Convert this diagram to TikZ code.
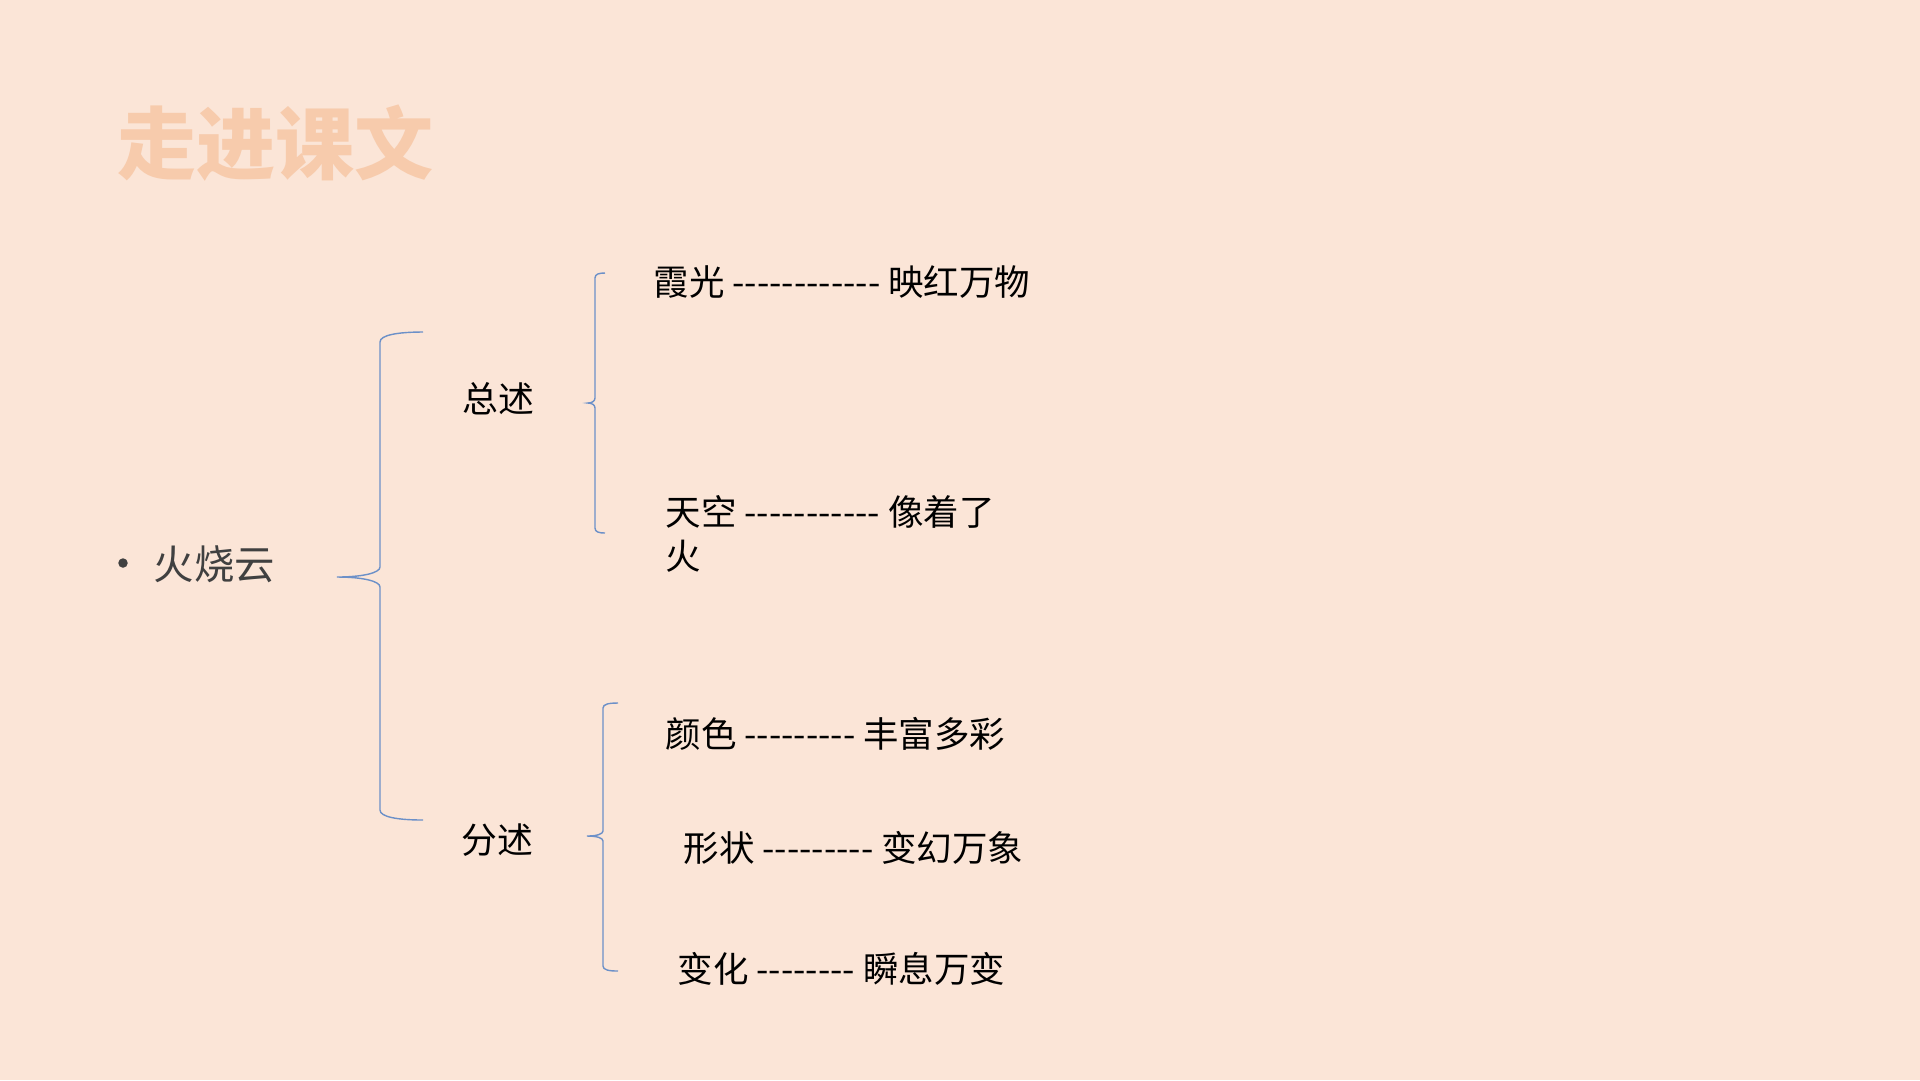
\documentclass[tikz,border=0pt]{standalone}
\usepackage{fontspec}
\newfontfamily\cjk{Noto Sans CJK SC}
\usetikzlibrary{positioning}
\definecolor{bgpeach}{HTML}{FBE5D7}
\definecolor{titlepeach}{HTML}{F7CBAC}
\definecolor{bracebl}{HTML}{6C90C8}
\definecolor{itemgray}{HTML}{404040}

\begin{document}
\begin{tikzpicture}[x=0.1mm, y=-0.1mm,
  title/.style={anchor=west, inner sep=0, text=titlepeach, font=\cjk\bfseries\fontsize{22.5}{27}\selectfont},
  item/.style={anchor=west, inner sep=0, text=itemgray, font=\cjk\fontsize{11.5}{14}\selectfont},
  part/.style={inner sep=0, font=\cjk\fontsize{10.2}{12}\selectfont},
  pair/.style={anchor=west, inner sep=0, align=left, font=\cjk\fontsize{10.1}{12.5}\selectfont},
  curly/.style={draw=bracebl, line width=0.4pt}]
  \fill[bgpeach] (0,0) rectangle (1920,1080);
  \node[title] (head) at (117,143) {走进课文};
  \node[circle, fill=itemgray, inner sep=0, minimum size=0.95mm] (dot) at (123,563) {};
  \node[item] (root) at (153,564) {火烧云};
  \node[part] (general) at (498,399) {总述};
  \node[part] (detail) at (497,840) {分述};
  \node[pair] (glow) at (653,282) {霞光 ------------ 映红万物};
  \node[pair] (sky) at (665,534) {天空 ----------- 像着了\\火};
  \node[pair] (colour) at (665,734) {颜色 --------- 丰富多彩};
  \node[pair] (shape) at (683,848) {形状 --------- 变幻万象};
  \node[pair] (change) at (677,969) {变化 -------- 瞬息万变};
  \draw[curly] (423,332) .. controls (398,332) and (380,335) .. (380,342) -- (380,567)
    .. controls (380,573) and (362,577) .. (337,577) .. controls (362,577) and (380,581) .. (380,587)
    -- (380,810) .. controls (380,817) and (398,820) .. (423,820);
  \draw[curly] (605,273) .. controls (599,273) and (595,274) .. (595,278) -- (595,398)
    .. controls (595,401) and (592,403) .. (588,403) .. controls (592,403) and (595,405) .. (595,408)
    -- (595,528) .. controls (595,532) and (599,533) .. (605,533);
  \draw[curly] (618,703) .. controls (609,703) and (603,704) .. (603,708) -- (603,831)
    .. controls (603,834) and (597,836) .. (587,836) .. controls (597,836) and (603,838) .. (603,841)
    -- (603,966) .. controls (603,970) and (609,971) .. (618,971);
\end{tikzpicture}
\end{document}
